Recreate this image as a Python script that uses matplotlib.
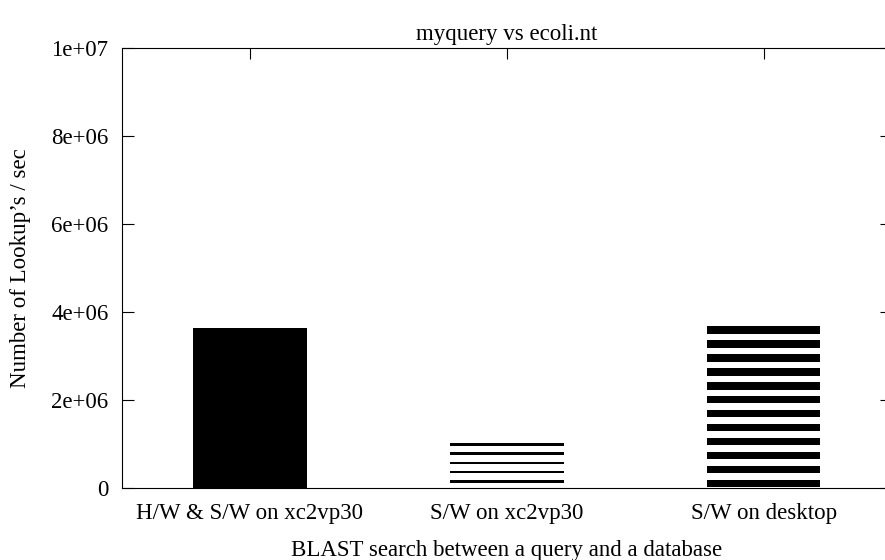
import numpy as np
import matplotlib.pyplot as plt

plt.rcParams["font.family"] = ["Liberation Serif", "DejaVu Serif"]

# data
categories = ["H/W & S/W on xc2vp30", "S/W on xc2vp30", "S/W on desktop"]
lookups = [3.64e6, 1.02e6, 3.68e6]
ytick_values = [0, 2e6, 4e6, 6e6, 8e6, 1e7]
ytick_labels = ["0", "2e+06", "4e+06", "6e+06", "8e+06", "1e+07"]

# gnuplot style fills: None is solid, otherwise (stripe period, stripe thickness)
fills = [None, (2.1e5, 0.6e5), (3.18e5, 1.68e5)]

fig = plt.figure(figsize=(8.85, 5.6), dpi=100)
# axes box in pixels: left 121.5, right 892 (just off the picture), top 48.3, bottom 488
ax = fig.add_axes([121.5 / 885, (560 - 488) / 560, (892 - 121.5) / 885, (488 - 48.3) / 560])

x = np.arange(len(categories))
width = 0.443
for xi, val, fill in zip(x, lookups, fills):
    if fill is None:
        ax.bar(xi, val, width=width, color="black", linewidth=0)
    else:
        period, thick = fill
        bottoms = val - thick - period * np.arange(int(val // period) + 1)
        bottoms = bottoms[bottoms > -0.3 * thick]
        ax.bar(np.full(len(bottoms), xi), thick, bottom=bottoms, width=width,
               color="black", linewidth=0)

ax.set_xlim(-0.5, 2.5)
ax.set_ylim(0, 1e7)
ax.set_xticks(x)
ax.set_xticklabels(categories)
ax.set_yticks(ytick_values)
ax.set_yticklabels(ytick_labels)

ax.tick_params(axis="y", direction="in", length=8.6, width=0.8, right=True,
               labelsize=16.5, pad=9.5)
ax.tick_params(axis="x", direction="in", length=8, width=0.8, top=True,
               labelsize=16.5, pad=11)
for tick in ax.xaxis.get_major_ticks():
    tick.tick1line.set_visible(False)

for s in ax.spines.values():
    s.set_linewidth(0.8)

ax.set_title("myquery vs ecoli.nt", fontsize=16.5, pad=6)
ax.set_xlabel("BLAST search between a query and a database", fontsize=16.5, labelpad=11.5)
ax.set_ylabel("Number of Lookup\u2019s / sec", fontsize=16.5, labelpad=14.5)

fig.savefig("out.png", dpi=100)
